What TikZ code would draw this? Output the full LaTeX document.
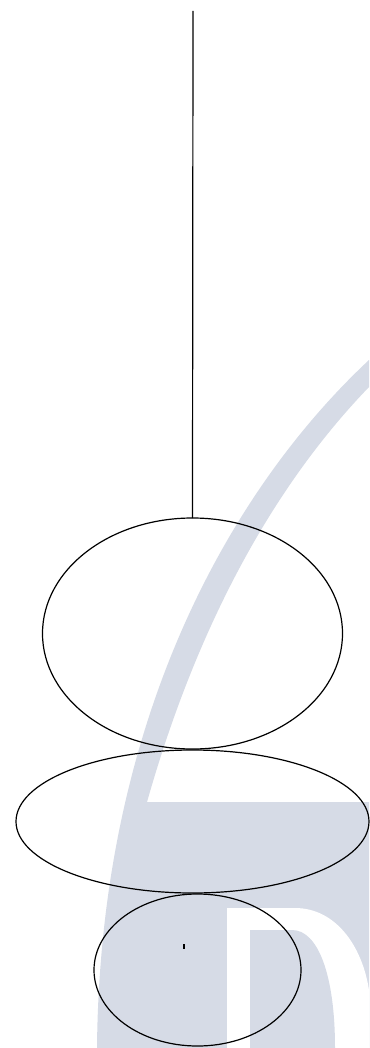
\documentclass[tikz,border=0pt]{standalone}
\usetikzlibrary{shapes.geometric}
\definecolor{wmark}{RGB}{214,219,230}
\tikzset{
  ring/.style={ellipse, draw=black, line width=1.2pt, inner sep=0pt, outer sep=0pt},
  stroke/.style={draw=black, line width=1.2pt}
}
\begin{document}
\begin{tikzpicture}[x=1pt,y=-1pt]
\useasboundingbox (0,0) rectangle (369,1048);
\fill[white] (0,0) rectangle (369,1048);
% watermark
\fill[wmark] (369,360) .. controls (230,490) and (100,720) .. (97,1048)
  -- (369,1048) -- (369,802) -- (147,802)
  .. controls (190,650) and (260,500) .. (369,387) -- cycle;
\fill[white] (227,1048) -- (227,908) -- (295,908) .. controls (335,908) and (362,945) .. (369,990) -- (369,1048) -- cycle;
\fill[wmark] (250,1048) -- (250,930) -- (292,930) .. controls (318,930) and (335,975) .. (335,1048) -- cycle;
% diagram
\node[ring, minimum width=300pt, minimum height=231pt] (e1) at (192.5,633.5) {};
\node[ring, minimum width=353pt, minimum height=143pt] (e2) at (192.5,821.5) {};
\node[ring, minimum width=207pt, minimum height=152pt] (e3) at (197.5,970) {};
\coordinate (top) at (193,11);
\draw[stroke] (top) -- (e1.north);
\coordinate (t1) at (184,944);
\coordinate (t2) at (184,949);
\draw[stroke] (t1) -- (t2);
\end{tikzpicture}
\end{document}
